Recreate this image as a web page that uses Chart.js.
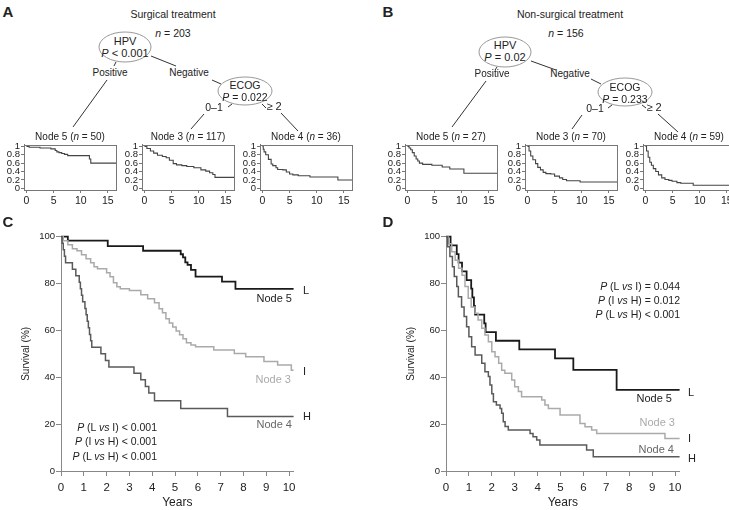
<!DOCTYPE html>
<html>
<head>
<meta charset="utf-8">
<script src="https://cdn.jsdelivr.net/npm/chart.js@4.4.1/dist/chart.umd.min.js"></script>
<style>
body { margin: 0; background: #fff; }
#fig { position: relative; width: 729px; height: 510px; overflow: hidden; background: #fff;
       font-family: "Liberation Sans", Arial, sans-serif; color: #222; }
#fig canvas { position: absolute; }
#fig svg { position: absolute; left: 0; top: 0; }
.t { position: absolute; white-space: nowrap; line-height: 1; }
</style>
</head>
<body>
<div id="fig">
<svg width="729" height="510">
  <g fill="none" stroke="#999" stroke-width="1">
    <ellipse cx="125" cy="47" rx="26" ry="15"/>
    <ellipse cx="245" cy="91" rx="27" ry="14"/>
    <ellipse cx="505" cy="52" rx="26" ry="15"/>
    <ellipse cx="625" cy="92" rx="27" ry="14"/>
  </g>
  <g stroke="#333" stroke-width="1">
    <line x1="116" y1="62" x2="114" y2="66"/>
    <line x1="107" y1="80" x2="73" y2="127"/>
    <line x1="151" y1="56" x2="176" y2="66"/>
    <line x1="212" y1="80" x2="221" y2="84"/>
    <line x1="232" y1="104" x2="228" y2="107"/>
    <line x1="204" y1="114" x2="191" y2="129"/>
    <line x1="262" y1="104" x2="266" y2="108"/>
    <line x1="281" y1="113" x2="298" y2="131"/>

    <line x1="497" y1="67" x2="495" y2="70"/>
    <line x1="486" y1="81" x2="452" y2="127"/>
    <line x1="531" y1="61" x2="556" y2="70"/>
    <line x1="591" y1="79" x2="601" y2="84"/>
    <line x1="612" y1="105" x2="608" y2="108"/>
    <line x1="582" y1="115" x2="572" y2="129"/>
    <line x1="642" y1="105" x2="646" y2="108"/>
    <line x1="658" y1="114" x2="678" y2="132"/>
  </g>
</svg>
</div>
<script>
// ---- panel C: surgical treatment (years, survival %) ----
var c5Years = [0, 0.3, 2.05, 3.6, 5.25, 5.35, 5.45, 5.55, 5.7, 5.9, 7.06, 7.65, 16];
var c5Surv  = [100, 98.3, 96, 94, 92.5, 91.2, 89, 88, 85.8, 83, 80.8, 77.7, 77.7];
var c3Years = [0, 0.1, 0.3, 0.5, 0.7, 0.9, 1.1, 1.3, 1.45, 1.6, 2.0, 2.15, 2.3, 2.45, 2.6, 3.0,
               3.5, 3.8, 4.1, 4.3, 4.45, 4.6, 4.75, 4.9, 5.05, 5.2, 5.35, 5.5, 5.7, 5.9, 6.7,
               7.6, 8.1, 8.9, 9.5, 10.1, 16];
var c3Surv  = [100, 98.3, 96.6, 94.9, 94, 92.3, 90.6, 88.9, 87.2, 86.3, 84.6, 82.9, 80.3, 78.6,
               77.8, 77.0, 75.2, 73.5, 71.8, 69.2, 67.5, 65.0, 63.2, 61.5, 59.8, 58.1, 56.4, 54.7,
               53.8, 53.0, 51.6, 50.2, 48.8, 46.7, 45.2, 43.0, 43.0];
var c4Years = [0, 0.05, 0.1, 0.15, 0.2, 0.5, 0.65, 0.8, 0.85, 0.9, 0.95, 1.05, 1.1, 1.15, 1.2,
               1.25, 1.3, 1.35, 1.75, 1.95, 2.1, 3.2, 3.5, 3.7, 3.85, 4.1, 5.25, 7.3, 16];
var c4Surv  = [100, 97.2, 94.4, 91.7, 88.9, 86.1, 83.3, 80.6, 77.8, 75.0, 72.2, 69.4, 66.7, 63.9,
               61.1, 58.3, 55.6, 52.8, 50.0, 47.2, 44.4, 41.7, 38.9, 36.1, 33.3, 30.0, 26.7, 23.3, 23.3];

// ---- panel D: non-surgical treatment ----
var d5Years = [0, 0.2, 0.47, 0.55, 0.7, 0.9, 1.1, 1.15, 1.22, 1.27, 1.67, 1.73, 2.18, 3.2,
               4.76, 5.56, 7.45, 16];
var d5Surv  = [100, 96.3, 92.6, 88.9, 85.2, 81.5, 77.8, 74.1, 70.4, 66.7, 63.0, 59.3, 55.6,
               51.9, 48.1, 43.2, 34.6, 34.6];
var d3Years = [0, 0.1, 0.25, 0.4, 0.55, 0.7, 0.83, 0.97, 1.1, 1.27, 1.4, 1.56, 1.7, 1.85, 2.0,
               2.14, 2.3, 2.43, 2.57, 2.87, 3.0, 3.16, 3.3, 4.18, 4.32, 4.47, 4.98, 5.85, 6.07,
               6.36, 6.58, 9.56, 16];
var d3Surv  = [100, 97, 93.6, 90, 86.5, 83.6, 78.7, 73.7, 70, 67.3, 64.4, 60.9, 58, 55.2, 50.9,
               48.8, 46, 43, 41.7, 38.8, 36, 33.9, 31.7, 30.3, 28.2, 26.7, 23.9, 20.3, 18.9, 17.5,
               16, 13.9, 13.9];
var d4Years = [0, 0.07, 0.17, 0.28, 0.36, 0.47, 0.54, 0.68, 0.79, 0.9, 1.0, 1.12, 1.27, 1.56,
               1.7, 1.85, 1.92, 2.0, 2.07, 2.2, 2.36, 2.43, 2.5, 2.58, 2.72, 3.67, 3.8, 3.96, 4.1,
               6.14, 6.43, 16];
var d4Surv  = [100, 95.7, 91.5, 87.2, 83, 78.7, 74.4, 70, 65.9, 61.6, 57.3, 53, 49.5, 46, 42.4,
               40.3, 36.7, 33, 29.6, 28.2, 26.7, 24.6, 21, 19, 17.5, 16, 14.6, 13.2, 11.1, 9, 6.1, 6.1];

// ---- small node plots (proportion surviving, 0-16 years) ----
var a5Years = [0, 0.5, 2.5, 4.5, 5.3, 5.6, 6.0, 6.5, 7.0, 7.6, 11.6, 11.85, 16.5];
var a5Surv  = [1, 0.98, 0.96, 0.94, 0.9, 0.87, 0.85, 0.83, 0.81, 0.78, 0.7, 0.6, 0.6];
var a3Years = [0, 0.45, 1.1, 1.7, 2.4, 3.3, 4.0, 4.6, 5.3, 5.9, 6.9, 7.8, 9.1, 10.4, 11.3, 12.0,
               12.6, 13.0, 16.5];
var a3Surv  = [1, 0.95, 0.89, 0.84, 0.79, 0.76, 0.73, 0.67, 0.59, 0.56, 0.54, 0.52, 0.49, 0.44,
               0.41, 0.37, 0.33, 0.26, 0.26];
var a4Years = [0, 0.15, 0.3, 0.6, 1.1, 1.6, 1.9, 2.5, 2.8, 3.75, 4.4, 5.0, 5.6, 6.6, 8.75, 13.9, 16.5];
var a4Surv  = [1, 0.93, 0.87, 0.8, 0.69, 0.58, 0.54, 0.49, 0.45, 0.44, 0.39, 0.34, 0.32, 0.3,
               0.27, 0.2, 0.2];
var b5Years = [0, 0.3, 0.6, 0.9, 1.25, 1.6, 1.9, 2.2, 2.8, 4.5, 6.4, 7.8, 10.4, 16.5];
var b5Surv  = [1, 0.96, 0.92, 0.85, 0.77, 0.7, 0.65, 0.6, 0.57, 0.55, 0.51, 0.46, 0.36, 0.36];
var b3Years = [0, 0.3, 0.6, 1.0, 1.5, 1.9, 2.4, 2.9, 3.4, 4.3, 5.0, 5.9, 6.5, 7.2, 9.7, 16.5];
var b3Surv  = [1, 0.89, 0.77, 0.68, 0.59, 0.5, 0.44, 0.38, 0.35, 0.34, 0.29, 0.25, 0.21, 0.18,
               0.15, 0.15];
var b4Years = [0, 0.2, 0.5, 0.8, 1.1, 1.45, 1.9, 2.4, 3.0, 3.6, 4.3, 4.9, 5.8, 6.5, 8.8, 16.5];
var b4Surv  = [1, 0.89, 0.74, 0.62, 0.55, 0.47, 0.4, 0.32, 0.25, 0.21, 0.19, 0.17, 0.135, 0.12,
               0.075, 0.075];

var bigYearTicks = [0, 1, 2, 3, 4, 5, 6, 7, 8, 9, 10];
var smallYearTicks = [0, 5, 10, 15];
var smallSurvTicks = [0, 0.2, 0.4, 0.6, 0.8, 1];

var FONT = '"Liberation Sans", Arial, sans-serif';
var fig = document.getElementById('fig');

function km(t, s) {
    return t.map(function (x, i) { return {x: x, y: s[i]}; });
}

function txt(html, x, y, size, opt) {
    opt = opt || {};
    var d = document.createElement('div');
    d.className = 't';
    d.innerHTML = html;
    d.style.fontSize = size + 'px';
    d.style.left = x + 'px';
    d.style.top = y + 'px';
    var tx = opt.align === 'right' ? '-100%' : (opt.align === 'left' ? '0' : '-50%');
    d.style.transform = 'translate(' + tx + ',-50%)';
    if (opt.color) d.style.color = opt.color;
    if (opt.bold) d.style.fontWeight = 'bold';
    fig.appendChild(d);
}

function canvas(left, top, w, h) {
    var c = document.createElement('canvas');
    c.width = w; c.height = h;
    c.style.left = left + 'px'; c.style.top = top + 'px';
    c.style.width = w + 'px'; c.style.height = h + 'px';
    fig.appendChild(c);
    return c;
}

function bigChart(c, yAxisW, padRight, titlePad, sets) {
    new Chart(c, {
        type: 'line',
        data: {datasets: sets},
        options: {
            responsive: false,
            animation: false,
            events: [],
            layout: {padding: {top: 11.7, right: padRight, left: 0, bottom: 0}},
            plugins: {legend: {display: false}, tooltip: {enabled: false}},
            scales: {
                x: {
                    type: 'linear', min: 0, max: 10.2,
                    afterBuildTicks: function (s) { s.ticks = bigYearTicks.map(function (v) { return {value: v}; }); },
                    ticks: {font: {size: 11.5, family: FONT}, color: '#222', padding: 5, maxRotation: 0, autoSkip: false},
                    grid: {drawOnChartArea: false, color: '#888', tickLength: 5},
                    border: {color: '#888'},
                    title: {display: true, text: 'Years', color: '#222', font: {size: 12, family: FONT},
                            padding: {top: 0, bottom: 0}},
                    afterFit: function (s) { s.height = 39; }
                },
                y: {
                    min: 0, max: 100,
                    ticks: {stepSize: 20, font: {size: 9.5, family: FONT}, color: '#222', padding: 1},
                    grid: {drawOnChartArea: false, color: '#888', tickLength: 5},
                    border: {color: '#888'},
                    title: {display: true, text: 'Survival (%)', color: '#222', font: {size: 10, family: FONT},
                            padding: {top: titlePad, bottom: 0}},
                    afterFit: function (s) { s.width = yAxisW; }
                }
            }
        }
    });
}

function kmSet(t, s, color, width) {
    return {data: km(t, s), borderColor: color, borderWidth: width, stepped: true,
            pointRadius: 0, fill: false, clip: {left: 2, top: 4, right: 0, bottom: 4}};
}

var boxPlugin = {
    id: 'box',
    afterDraw: function (chart) {
        var a = chart.chartArea, ctx = chart.ctx;
        ctx.save();
        ctx.strokeStyle = '#777';
        ctx.lineWidth = 1;
        ctx.strokeRect(Math.round(a.left) + 0.5, Math.round(a.top) + 0.5,
                       Math.round(a.right - a.left), Math.round(a.bottom - a.top));
        ctx.restore();
    }
};

function smallChart(c, t, s) {
    new Chart(c, {
        type: 'line',
        data: {datasets: [{data: km(t, s), borderColor: '#444', borderWidth: 1.1, stepped: true,
                           pointRadius: 0, fill: false}]},
        options: {
            responsive: false,
            animation: false,
            events: [],
            layout: {padding: {top: 5, right: 4, left: 0, bottom: 0}},
            plugins: {legend: {display: false}, tooltip: {enabled: false}},
            scales: {
                x: {
                    type: 'linear', min: -0.45, max: 16.5,
                    afterBuildTicks: function (sc) { sc.ticks = smallYearTicks.map(function (v) { return {value: v}; }); },
                    ticks: {font: {size: 10.5, family: FONT}, color: '#222', padding: 2, maxRotation: 0, autoSkip: false},
                    grid: {drawOnChartArea: false, color: '#777', tickLength: 3},
                    border: {color: '#777'},
                    afterFit: function (sc) { sc.height = 20; }
                },
                y: {
                    min: -0.04, max: 1.04,
                    afterBuildTicks: function (sc) { sc.ticks = smallSurvTicks.map(function (v) { return {value: v}; }); },
                    ticks: {font: {size: 9.5, family: FONT}, color: '#222', padding: 1, autoSkip: false,
                            callback: function (v) { return (v === 0 || v === 1) ? String(v) : v.toFixed(1); }},
                    grid: {drawOnChartArea: false, color: '#777', tickLength: 3},
                    border: {color: '#777'},
                    afterFit: function (sc) { sc.width = 24; }
                }
            }
        },
        plugins: [boxPlugin]
    });
}

// panels C and D
bigChart(canvas(0, 225, 365, 285), 61, 71.4, 20, [
    kmSet(c4Years, c4Surv, '#5a5a5a', 1.5),
    kmSet(c3Years, c3Surv, '#aaaaaa', 1.5),
    kmSet(c5Years, c5Surv, '#1a1a1a', 1.8)
]);
bigChart(canvas(365, 225, 364, 285), 81, 49.4, 40, [
    kmSet(d4Years, d4Surv, '#5a5a5a', 1.5),
    kmSet(d3Years, d3Surv, '#aaaaaa', 1.5),
    kmSet(d5Years, d5Surv, '#1a1a1a', 1.8)
]);

// node plots
var smallDefs = [
    [24, a5Years, a5Surv, 'Node 5 (<i>n</i> = 50)'],
    [142, a3Years, a3Surv, 'Node 3 (<i>n</i> = 117)'],
    [260, a4Years, a4Surv, 'Node 4 (<i>n</i> = 36)'],
    [405, b5Years, b5Surv, 'Node 5 (<i>n</i> = 27)'],
    [525, b3Years, b3Surv, 'Node 3 (<i>n</i> = 70)'],
    [643, b4Years, b4Surv, 'Node 4 (<i>n</i> = 59)']
];
smallDefs.forEach(function (d) {
    smallChart(canvas(d[0] - 24, 138, 120, 72), d[1], d[2]);
    txt(d[3], d[0] + 46, 136.5, 10);
});

// panel letters
txt('A', 8, 11, 15, {bold: true});
txt('B', 388, 11, 15, {bold: true});
txt('C', 8, 221, 15, {bold: true});
txt('D', 388, 221, 15, {bold: true});

// tree A
txt('Surgical treatment', 173, 14, 10.5);
txt('<i>n</i> = 203', 173, 33, 10.5);
txt('HPV', 125, 41, 11);
txt('<i>P</i> &lt; 0.001', 125, 53, 11);
txt('Positive', 110, 73, 10);
txt('Negative', 189, 73, 10);
txt('ECOG', 245, 85, 10.5);
txt('<i>P</i> = 0.022', 245, 97, 10.5);
txt('0–1', 214, 107, 10.5);
txt('≥ 2', 274, 106, 11);

// tree B
txt('Non-surgical treatment', 570, 14, 10.5);
txt('<i>n</i> = 156', 566, 33, 10.5);
txt('HPV', 505, 45, 11);
txt('<i>P</i> = 0.02', 505, 57, 11);
txt('Positive', 492, 74, 10);
txt('Negative', 570, 74, 10);
txt('ECOG', 625, 87, 10.5);
txt('<i>P</i> = 0.233', 625, 99, 10.5);
txt('0–1', 595, 108, 10.5);
txt('≥ 2', 654, 107, 11);

// panel C annotations
txt('L', 303, 290, 11, {align: 'left'});
txt('I', 303, 371, 11, {align: 'left'});
txt('H', 303, 416, 11, {align: 'left'});
txt('Node 5', 292, 298, 11, {align: 'right'});
txt('Node 3', 291, 379, 11, {align: 'right', color: '#aaa'});
txt('Node 4', 292, 424, 11, {align: 'right', color: '#666'});
txt('<i>P</i> (L <i>vs</i> I) &lt; 0.001', 157, 427, 10.5, {align: 'right'});
txt('<i>P</i> (I <i>vs</i> H) &lt; 0.001', 157, 441, 10.5, {align: 'right'});
txt('<i>P</i> (L <i>vs</i> H) &lt; 0.001', 157, 456, 10.5, {align: 'right'});

// panel D annotations
txt('L', 688, 392, 11, {align: 'left'});
txt('I', 688, 438, 11, {align: 'left'});
txt('H', 688, 458, 11, {align: 'left'});
txt('Node 5', 672, 398, 11, {align: 'right'});
txt('Node 3', 675, 422, 11, {align: 'right', color: '#aaa'});
txt('Node 4', 674, 449, 11, {align: 'right', color: '#666'});
txt('<i>P</i> (L <i>vs</i> I) = 0.044', 680, 286, 10.5, {align: 'right'});
txt('<i>P</i> (I <i>vs</i> H) = 0.012', 680, 300, 10.5, {align: 'right'});
txt('<i>P</i> (L <i>vs</i> H) &lt; 0.001', 680, 314, 10.5, {align: 'right'});
</script>
</body>
</html>
